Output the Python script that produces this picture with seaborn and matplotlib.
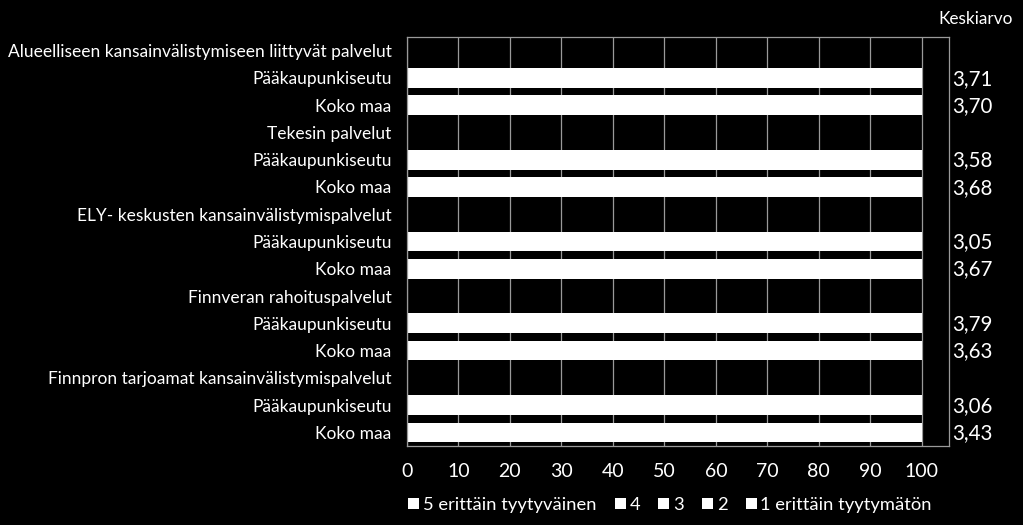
import matplotlib
matplotlib.use("Agg")
import matplotlib.pyplot as plt
from matplotlib.patches import Patch
import seaborn as sns
import pandas as pd
import numpy as np

# ---- data ----
row_labels = [
    "Alueelliseen kansainvälistymiseen liittyvät palvelut", "Pääkaupunkiseutu", "Koko maa",
    "Tekesin palvelut", "Pääkaupunkiseutu", "Koko maa",
    "ELY- keskusten kansainvälistymispalvelut", "Pääkaupunkiseutu", "Koko maa",
    "Finnveran rahoituspalvelut", "Pääkaupunkiseutu", "Koko maa",
    "Finnpron tarjoamat kansainvälistymispalvelut", "Pääkaupunkiseutu", "Koko maa",
]
is_header = [True, False, False] * 5
series_names = ["5 erittäin tyytyväinen", "4", "3", "2", "1 erittäin tyytymätön"]
# shares (%) per data row, order: 5, 4, 3, 2, 1 (segments are all white in the original)
s5 = [21, 20, 18, 20, 10, 20, 25, 18, 9, 14]
s4 = [41, 42, 40, 41, 29, 40, 42, 41, 31, 38]
s3 = [29, 29, 28, 29, 29, 30, 23, 30, 29, 31]
s2 = [6, 6, 10, 7, 20, 7, 7, 8, 19, 11]
s1 = [3, 3, 4, 3, 12, 3, 3, 3, 12, 6]
means = ["3,71", "3,70", "3,58", "3,68", "3,05", "3,67", "3,79", "3,63", "3,06", "3,43"]
x_ticks = [0, 10, 20, 30, 40, 50, 60, 70, 80, 90, 100]

# ---- build table ----
row_ids = [f"r{i}" for i in range(len(row_labels))]
data_rows = [rid for rid, h in zip(row_ids, is_header) if not h]
shares = np.array([s5, s4, s3, s2, s1], dtype=float)
cum = np.cumsum(shares, axis=0)  # cumulative through each series
recs = []
for si, name in enumerate(series_names):
    for ri, rid in enumerate(data_rows):
        recs.append({"row": rid, "series": name, "cum": cum[si, ri]})
df = pd.DataFrame(recs)

# ---- figure ----
sns.set_style("dark")
plt.rcParams["font.family"] = ["Lato", "DejaVu Sans"]
fig = plt.figure(figsize=(10.23, 5.25), dpi=100, facecolor="black")
ax = fig.add_axes([407 / 1023, 1 - 446 / 525, (949 - 407) / 1023, (446 - 37) / 525])
ax.set_facecolor("black")

for x in x_ticks:
    ax.axvline(x, color="#9a9a9a", lw=0.9, zorder=0)

# draw largest cumulative first so smaller segments overlay
for name in reversed(series_names):
    sub = df[df["series"] == name]
    sns.barplot(data=sub, y="row", x="cum", order=row_ids, orient="h",
                color="white", width=0.72, edgecolor="none", linewidth=0,
                saturation=1, ax=ax, zorder=2)

ax.set_xlim(0, 105.3)
ax.set_xticks(x_ticks)
ax.set_xticklabels([str(v) for v in x_ticks], color="white", fontsize=14)
ax.set_yticks(range(len(row_ids)))
ax.set_yticklabels(row_labels, color="white", fontsize=12.5)
ax.tick_params(axis="both", length=0)
ax.tick_params(axis="x", pad=12)
ax.tick_params(axis="y", pad=11)
ax.set_xlabel("")
ax.set_ylabel("")
ax.grid(False)
for sp in ax.spines.values():
    sp.set_visible(True)
    sp.set_color("#9a9a9a")
    sp.set_linewidth(0.9)

# mean values on the right
for rid, m in zip(data_rows, means):
    ax.text(105.9, row_ids.index(rid) + 0.03, m, color="white", fontsize=14.8,
            ha="left", va="center", clip_on=False)
fig.text(976 / 1023, 1 - 19 / 525, "Keskiarvo", color="white", fontsize=12.4,
         ha="center", va="center")

handles = [Patch(facecolor="white", edgecolor="none", label=n) for n in series_names]
fig.legend(handles=handles, loc="center", bbox_to_anchor=(670 / 1023, 1 - 505 / 525),
           ncol=5, frameon=False, fontsize=13.2, labelcolor="white",
           handlelength=0.6, handleheight=0.6, handletextpad=0.2, columnspacing=1.0)

fig.savefig("out.png", dpi=100, facecolor="black")
